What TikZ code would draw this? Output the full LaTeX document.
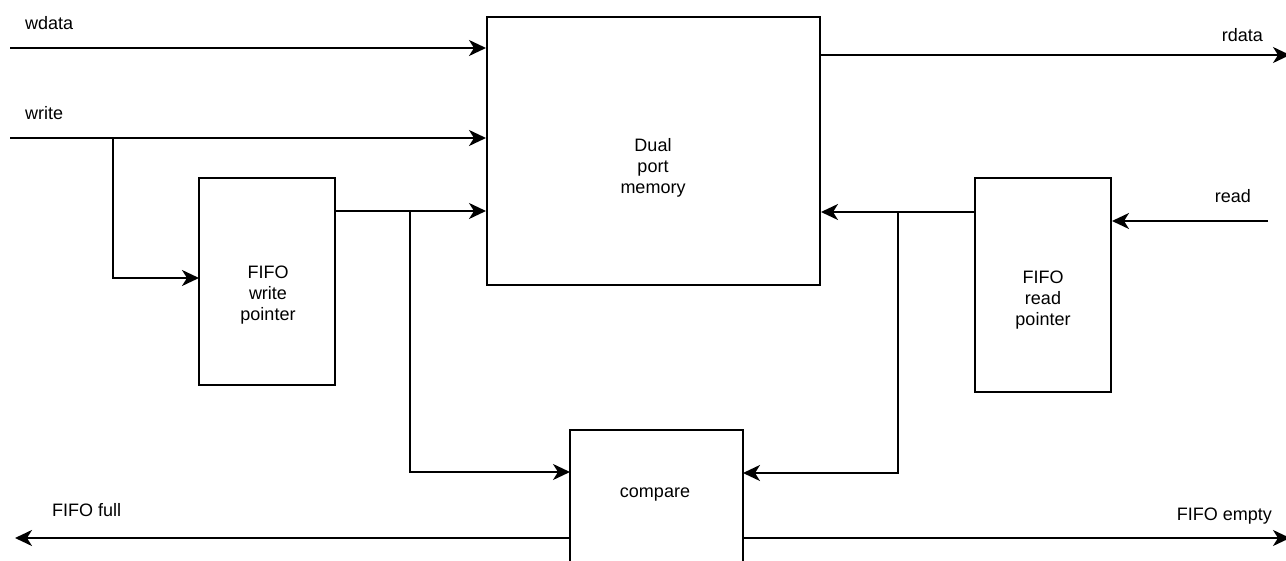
\documentclass[tikz,border=0pt]{standalone}
\usepackage{fontspec}
\setmainfont{Liberation Sans}
\usetikzlibrary{arrows.meta,calc}
\begin{document}
\begin{tikzpicture}[x=1pt,y=-1pt,
  box/.style={draw, line width=2pt, inner sep=0pt, fill=white},
  lbl/.style={font=\fontsize{18}{21}\selectfont, align=center, inner sep=0pt},
  wire/.style={line width=2pt},
  arr/.style={wire, -{Stealth[length=17pt,width=16pt,inset=5pt]}}]
\useasboundingbox (0,0) rectangle (1286,561);
\clip (0,0) rectangle (1286,561);
% blocks
\node[box, minimum width=333pt, minimum height=268pt] (mem) at (653.5,151) {};
\node[box, minimum width=136pt, minimum height=207pt] (wp) at (267,281.5) {};
\node[box, minimum width=136pt, minimum height=214pt] (rp) at (1043,285) {};
\node[box, minimum width=173pt, minimum height=170pt] (cmp) at (656.5,515) {};
% block texts (base anchor = baseline of last line)
\node[lbl, anchor=base] (memtxt) at (653,194) {Dual\\port\\memory};
\node[lbl, anchor=base] (wptxt) at (268,321) {FIFO\\write\\pointer};
\node[lbl, anchor=base] (rptxt) at (1043,326) {FIFO\\read\\pointer};
\node[lbl, anchor=base] (cmptxt) at (655,497) {compare};
% signal labels
\node[lbl, anchor=base west] (lwdata) at (25,30) {wdata};
\node[lbl, anchor=base west] (lwrite) at (25,120) {write};
\node[lbl, anchor=base east] (lrdata) at (1263,42) {rdata};
\node[lbl, anchor=base east] (lread) at (1251,203) {read};
\node[lbl, anchor=base west] (lfull) at (52,516) {FIFO full};
\node[lbl, anchor=base east] (lempty) at (1272,520) {FIFO empty};
% coordinates
\coordinate (wdin) at (10,48);
\coordinate (wrin) at (10,138);
\coordinate (wrj) at (113,138);
\coordinate (wpin) at (199,278);
\coordinate (wpo) at (336,211);
\coordinate (wj) at (410,211);
\coordinate (cmpin1) at (570,472);
\coordinate (rdo) at (1290,55);
\coordinate (rdin) at (1268,221);
\coordinate (rpo) at (975,212);
\coordinate (rj) at (898,212);
\coordinate (cmpin2) at (743,473);
\coordinate (ffo) at (15,538);
\coordinate (feo) at (1290,538);
% connectors
\draw[arr] (wdin) -- (wdin -| mem.west);
\draw[arr] (wrin) -- (wrin -| mem.west);
\draw[arr] (wrj) |- (wpin);
\draw[arr] (wpo) -- (wpo -| mem.west);
\draw[arr] (wj) |- (cmpin1);
\draw[arr] (rdo -| mem.east) -- (rdo);
\draw[arr] (rdin) -- (rdin -| rp.east);
\draw[arr] (rpo) -- (rpo -| mem.east);
\draw[arr] (rj) |- (cmpin2);
\draw[arr] (ffo -| cmp.west) -- (ffo);
\draw[arr] (feo -| cmp.east) -- (feo);
\end{tikzpicture}
\end{document}
